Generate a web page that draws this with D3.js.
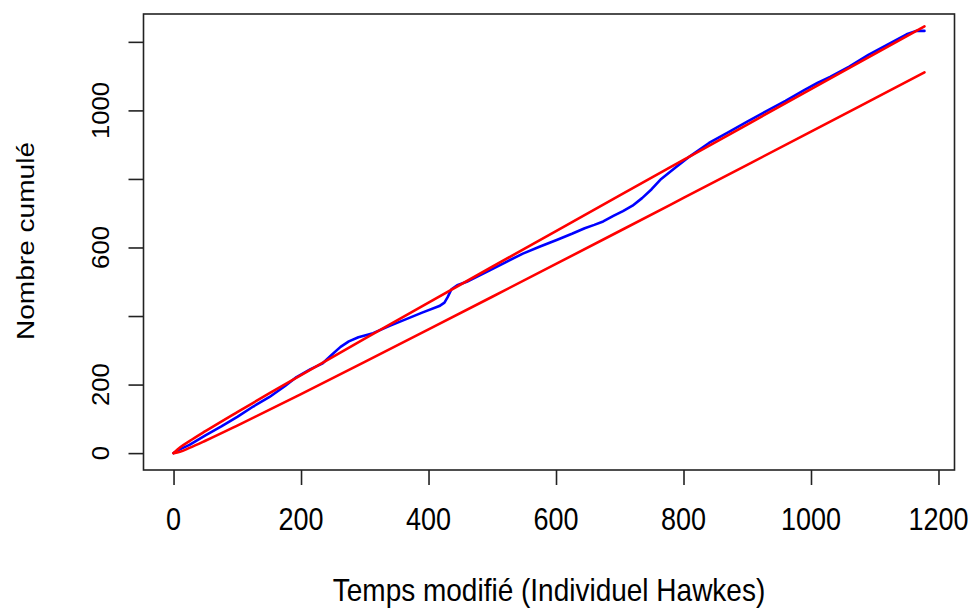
<!DOCTYPE html>
<html>
<head>
<meta charset="utf-8">
<script src="https://cdn.jsdelivr.net/npm/d3@7"></script>
<style>
  html, body { margin: 0; padding: 0; background: #fff; }
  svg { display: block; }
  text { font-family: "Liberation Sans", Arial, sans-serif; fill: #000; }
</style>
</head>
<body>
<svg id="chart" width="973" height="609"></svg>
<script>
// Transformed time (x) and cumulative event count (y) of the fitted Hawkes process
const blueTime  = [0, 9, 25, 50, 75, 100, 125, 150, 175, 193, 215, 234, 250, 262, 275, 290, 313, 340, 365, 390, 417, 425, 430, 436, 445, 460, 496, 520, 548, 575, 601, 625, 645, 660, 674, 690, 705, 720, 735, 750, 765, 785, 810, 840, 870, 900, 930, 960, 990, 1010, 1030, 1060, 1090, 1120, 1150, 1165, 1178];
const blueCount = [0, 10, 24, 52, 78, 106, 136, 163, 196, 222, 245, 262, 290, 310, 326, 338, 350, 372, 391, 410, 429, 439, 455, 478, 490, 500, 533, 556, 582, 603, 622, 640, 656, 666, 676, 692, 706, 722, 744, 770, 800, 830, 866, 905, 936, 967, 998, 1028, 1060, 1080, 1098, 1128, 1162, 1192, 1222, 1232, 1232];

// 95% band around the unit-rate line
const bandTime  = [0, 10, 25, 50, 100, 150, 200, 300, 400, 500, 600, 700, 800, 900, 1000, 1100, 1178];
const bandUpper = [0, 16.2, 34.8, 63.9, 119.6, 174.0, 227.7, 333.9, 439.2, 543.8, 648.0, 751.9, 855.4, 958.8, 1062.0, 1165.0, 1245.3];
const bandLower = [0, 3.8, 15.2, 36.1, 80.4, 126.0, 172.3, 266.1, 360.8, 456.2, 552.0, 648.1, 744.6, 841.2, 938.0, 1035.0, 1110.7];

const xTicks = [0, 200, 400, 600, 800, 1000, 1200];
const yTicks = [0, 200, 400, 600, 800, 1000, 1200];
const yTickLabels = [0, 200, 600, 1000];

const xTitle = "Temps modifié (Individuel Hawkes)";
const yTitle = "Nombre cumulé";

const svg = d3.select("#chart");
const box = { left: 143.5, right: 954.5, top: 14, bottom: 470 };

// axis limits padded 4% on each side, as in base R plots
function padded(lo, hi) { const r = hi - lo; return [lo - 0.04 * r, hi + 0.04 * r]; }
const x = d3.scaleLinear().domain(padded(0, d3.max(blueTime))).range([box.left, box.right]);
const y = d3.scaleLinear().domain(padded(0, d3.max(blueCount))).range([box.bottom, box.top]);

const line = d3.line().x(d => x(d[0])).y(d => y(d[1]));
const zip = (a, b) => a.map((v, i) => [v, b[i]]);

const plot = svg.append("g");
plot.append("path")
  .datum(zip(blueTime, blueCount))
  .attr("d", line)
  .attr("fill", "none").attr("stroke", "#0000ff")
  .attr("stroke-width", 2.6).attr("stroke-linejoin", "round").attr("stroke-linecap", "round");

[bandUpper, bandLower].forEach(vals => {
  plot.append("path")
    .datum(zip(bandTime, vals))
    .attr("d", line.curve(d3.curveMonotoneX))
    .attr("fill", "none").attr("stroke", "#ff0000")
    .attr("stroke-width", 2.6).attr("stroke-linecap", "round");
});

// frame
svg.append("rect")
  .attr("x", box.left).attr("y", box.top)
  .attr("width", box.right - box.left).attr("height", box.bottom - box.top)
  .attr("fill", "none").attr("stroke", "#222").attr("stroke-width", 1.6);

// x axis
const xAxis = d3.axisBottom(x).tickValues(xTicks).tickSize(15).tickFormat(() => "");
const gx = svg.append("g").attr("transform", `translate(0,${box.bottom})`).call(xAxis);
gx.select(".domain").remove();
gx.selectAll(".tick line").attr("stroke", "#222").attr("stroke-width", 1.6);

svg.append("g").selectAll("text").data(xTicks).join("text")
  .attr("transform", d => `translate(${x(d)},530) scale(1,1.15)`)
  .attr("text-anchor", "middle")
  .style("font-size", "27px")
  .text(d => d);

// y axis
const yAxis = d3.axisLeft(y).tickValues(yTicks).tickSize(15).tickFormat(() => "");
const gy = svg.append("g").attr("transform", `translate(${box.left},0)`).call(yAxis);
gy.select(".domain").remove();
gy.selectAll(".tick line").attr("stroke", "#222").attr("stroke-width", 1.6);

svg.append("g").selectAll("text").data(yTickLabels).join("text")
  .attr("transform", d => `translate(109,${y(d)}) rotate(-90) scale(1.07,1)`)
  .attr("text-anchor", "middle")
  .style("font-size", "24px")
  .text(d => d);

// axis titles
svg.append("text")
  .attr("transform", "translate(549,601) scale(1,1.12)")
  .attr("text-anchor", "middle")
  .style("font-size", "28px")
  .text(xTitle);

svg.append("text")
  .attr("transform", `translate(34,${(box.top + box.bottom) / 2 - 1}) rotate(-90) scale(1.17,1)`)
  .attr("text-anchor", "middle")
  .style("font-size", "24px")
  .text(yTitle);
</script>
</body>
</html>
